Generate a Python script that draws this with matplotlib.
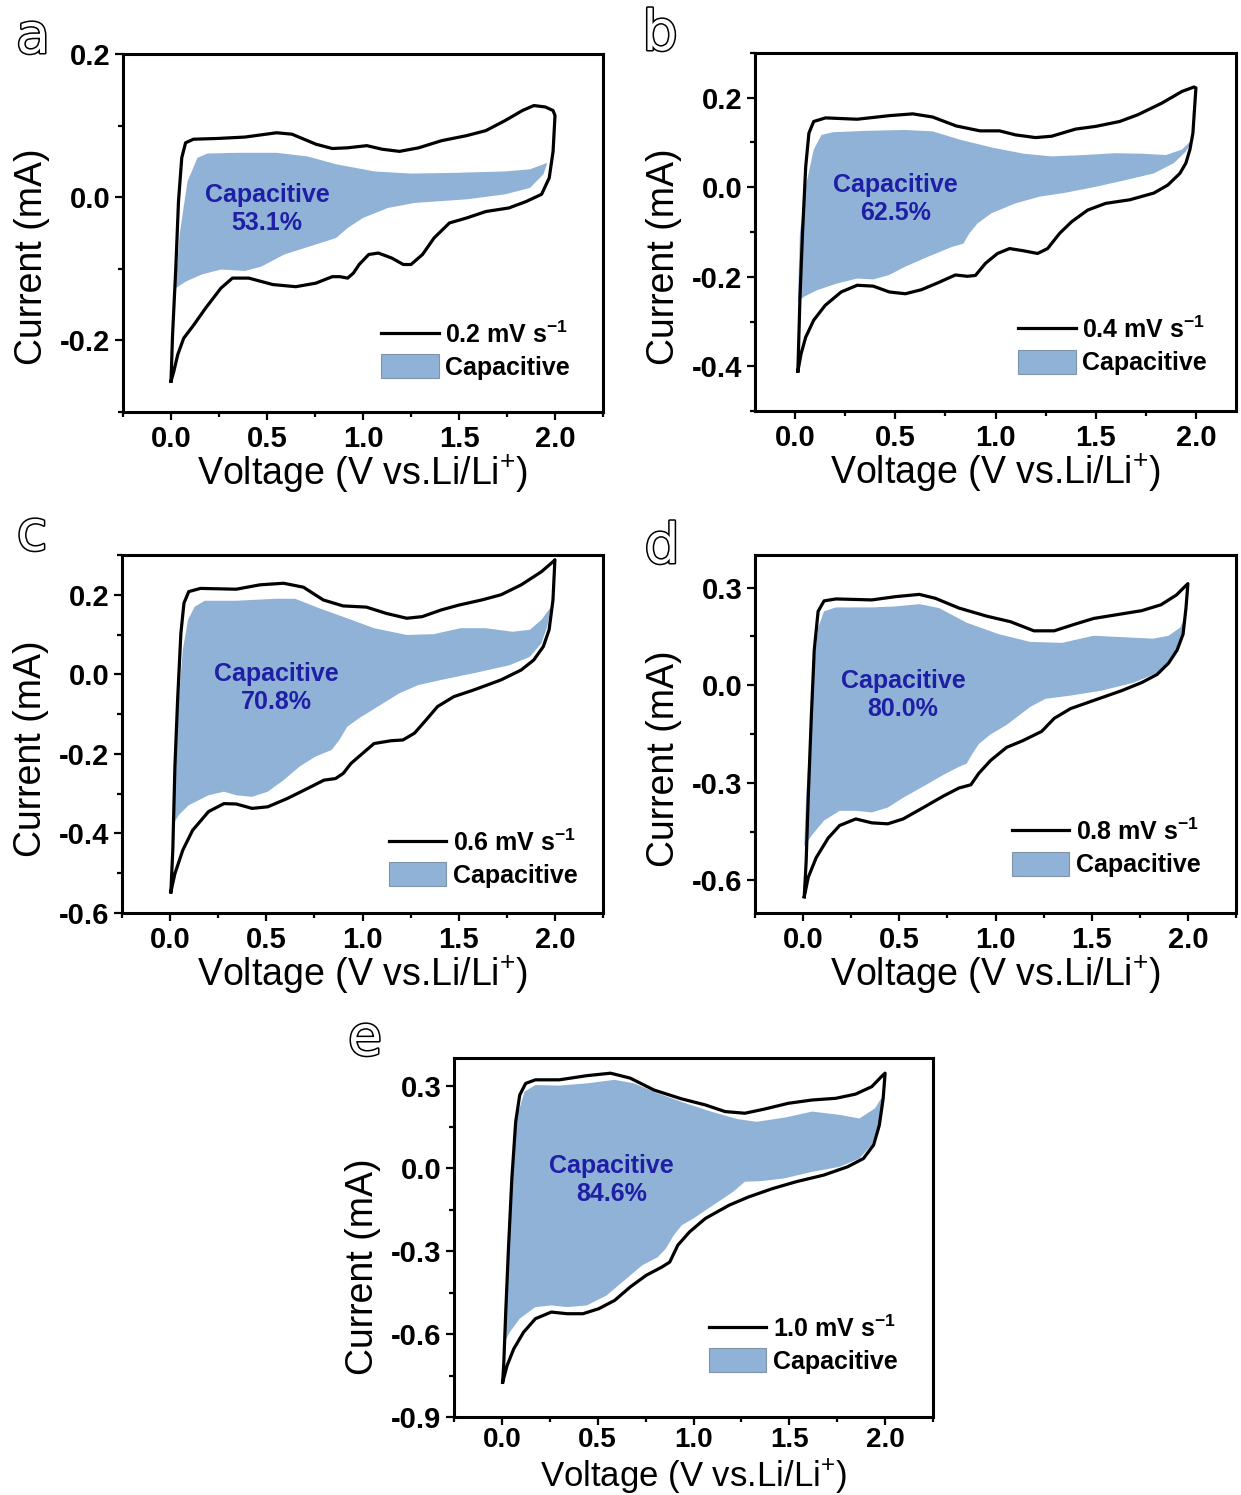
import matplotlib

matplotlib.use("Agg")

import matplotlib.pyplot as plt  # noqa: E402
import matplotlib.patheffects as pe  # noqa: E402
from matplotlib.lines import Line2D  # noqa: E402
from matplotlib.patches import Patch  # noqa: E402
from matplotlib.ticker import FormatStrFormatter, MultipleLocator  # noqa: E402

# ---------------------------------------------------------------- data ----
# each CV loop: anodic sweep 0 -> 2 V, then cathodic sweep 2 -> 0 V
cv_a_v = [0.0, 0.008, 0.025, 0.039, 0.056, 0.076, 0.117, 0.24, 0.385, 0.55, 0.63, 0.755, 0.84, 0.92,
          1.02, 1.10, 1.19, 1.29, 1.41, 1.54, 1.64, 1.74, 1.83, 1.89, 1.95, 1.99, 2.0,
          1.99, 1.97, 1.93, 1.85, 1.76, 1.64, 1.54, 1.45, 1.37, 1.31, 1.25, 1.21, 1.15, 1.08, 1.03,
          0.98, 0.95, 0.92, 0.88, 0.84, 0.755, 0.65, 0.53, 0.405, 0.32, 0.26, 0.18, 0.117, 0.066,
          0.035, 0.014, 0.0]
cv_a_i = [-0.257, -0.193, -0.099, -0.006, 0.055, 0.076, 0.081, 0.082, 0.084, 0.090, 0.088, 0.074,
          0.068, 0.069, 0.072, 0.067, 0.064, 0.069, 0.079, 0.086, 0.093, 0.107, 0.121, 0.128, 0.126,
          0.121, 0.114,
          0.064, 0.027, 0.004, -0.006, -0.015, -0.020, -0.029, -0.036, -0.057, -0.080, -0.094, -0.094,
          -0.085, -0.078, -0.080, -0.094, -0.106, -0.113, -0.111, -0.111, -0.120, -0.125, -0.122,
          -0.113, -0.113, -0.127, -0.155, -0.179, -0.197, -0.220, -0.244, -0.257]
cap_a_v = [0.025, 0.045, 0.086, 0.138, 0.19, 0.34, 0.55, 0.71, 0.86, 1.06, 1.25, 1.48, 1.74, 1.87, 1.96,
           1.94, 1.87, 1.74, 1.54, 1.27, 1.13, 1.0, 0.92, 0.86, 0.755, 0.59, 0.47, 0.385, 0.26, 0.16,
           0.076, 0.025]
cap_a_i = [-0.122, -0.052, 0.022, 0.055, 0.061, 0.062, 0.062, 0.057, 0.046, 0.036, 0.033, 0.034, 0.036,
           0.039, 0.048,
           0.032, 0.013, 0.004, -0.003, -0.008, -0.015, -0.029, -0.043, -0.057, -0.066, -0.080, -0.097,
           -0.103, -0.101, -0.108, -0.118, -0.127]

cv_b_v = [0.014, 0.024, 0.037, 0.053, 0.069, 0.093, 0.152, 0.31, 0.47, 0.587, 0.686, 0.804, 0.923, 1.02,
          1.10, 1.20, 1.28, 1.40, 1.50, 1.62, 1.71, 1.83, 1.93, 1.99, 2.0,
          1.985, 1.97, 1.95, 1.92, 1.86, 1.79, 1.67, 1.55, 1.46, 1.38, 1.32, 1.26, 1.21, 1.14, 1.07,
          1.01, 0.95, 0.90, 0.86, 0.80, 0.71, 0.63, 0.55, 0.47, 0.39, 0.31, 0.23, 0.15, 0.093, 0.053,
          0.03, 0.014]
cv_b_i = [-0.411, -0.252, -0.103, 0.046, 0.121, 0.147, 0.155, 0.152, 0.160, 0.164, 0.157, 0.137, 0.126,
          0.126, 0.117, 0.111, 0.114, 0.130, 0.136, 0.147, 0.162, 0.188, 0.214, 0.224, 0.222,
          0.121, 0.084, 0.054, 0.031, 0.005, -0.013, -0.028, -0.036, -0.051, -0.077, -0.103, -0.137,
          -0.148, -0.142, -0.137, -0.148, -0.170, -0.197, -0.199, -0.196, -0.214, -0.229, -0.238,
          -0.234, -0.221, -0.219, -0.234, -0.264, -0.297, -0.335, -0.372, -0.411]
cap_b_v = [0.014, 0.024, 0.053, 0.093, 0.132, 0.19, 0.35, 0.547, 0.686, 0.825, 0.98, 1.14, 1.28, 1.44,
           1.595, 1.73, 1.85, 1.93, 1.99,
           1.95, 1.89, 1.79, 1.65, 1.50, 1.34, 1.22, 1.10, 0.98, 0.91, 0.87, 0.84, 0.785, 0.665, 0.547,
           0.47, 0.39, 0.31, 0.21, 0.11, 0.043, 0.014]
cap_b_i = [-0.256, -0.103, 0.001, 0.084, 0.117, 0.123, 0.126, 0.128, 0.125, 0.106, 0.089, 0.075, 0.069,
           0.072, 0.076, 0.075, 0.072, 0.084, 0.110,
           0.080, 0.054, 0.031, 0.016, 0.001, -0.013, -0.021, -0.036, -0.058, -0.081, -0.103, -0.126,
           -0.133, -0.155, -0.178, -0.196, -0.206, -0.204, -0.215, -0.230, -0.245, -0.256]

cv_c_v = [0.004, 0.014, 0.025, 0.039, 0.056, 0.072, 0.097, 0.158, 0.344, 0.467, 0.59, 0.693, 0.796, 0.899,
          1.02, 1.125, 1.23, 1.31, 1.41, 1.50, 1.62, 1.72, 1.825, 1.93, 1.99, 2.0,
          1.99, 1.97, 1.94, 1.89, 1.825, 1.72, 1.58, 1.475, 1.39, 1.33, 1.27, 1.21, 1.147, 1.06, 1.00,
          0.94, 0.90, 0.86, 0.80, 0.714, 0.61, 0.508, 0.426, 0.344, 0.28, 0.20, 0.117, 0.066, 0.025,
          0.004]
cv_c_i = [-0.547, -0.442, -0.232, -0.065, 0.103, 0.179, 0.208, 0.216, 0.214, 0.225, 0.229, 0.219, 0.187,
          0.172, 0.169, 0.153, 0.141, 0.145, 0.162, 0.174, 0.187, 0.200, 0.225, 0.258, 0.283, 0.288,
          0.187, 0.112, 0.070, 0.036, 0.011, -0.014, -0.039, -0.056, -0.081, -0.115, -0.148, -0.165,
          -0.167, -0.174, -0.199, -0.224, -0.249, -0.262, -0.266, -0.287, -0.312, -0.333, -0.337,
          -0.326, -0.325, -0.345, -0.392, -0.442, -0.501, -0.547]
cap_c_v = [0.014, 0.025, 0.045, 0.066, 0.093, 0.128, 0.18, 0.344, 0.55, 0.65, 0.776, 0.92, 1.06, 1.23,
           1.37, 1.51, 1.64, 1.78, 1.87, 1.93, 1.98,
           1.96, 1.93, 1.87, 1.765, 1.58, 1.41, 1.29, 1.19, 1.08, 0.98, 0.92, 0.88, 0.84, 0.755, 0.673,
           0.59, 0.508, 0.426, 0.344, 0.28, 0.20, 0.097, 0.045, 0.014]
cap_c_i = [-0.379, -0.232, -0.065, 0.061, 0.137, 0.170, 0.185, 0.185, 0.190, 0.190, 0.166, 0.141, 0.116,
           0.099, 0.101, 0.116, 0.116, 0.107, 0.112, 0.137, 0.170,
           0.120, 0.078, 0.044, 0.023, 0.003, -0.014, -0.027, -0.048, -0.081, -0.111, -0.132, -0.165,
           -0.190, -0.207, -0.232, -0.266, -0.295, -0.308, -0.304, -0.295, -0.304, -0.329, -0.354,
           -0.379]

cv_d_v = [0.006, 0.016, 0.027, 0.043, 0.058, 0.078, 0.109, 0.171, 0.357, 0.48, 0.604, 0.687, 0.81, 0.955,
          1.078, 1.20, 1.305, 1.41, 1.51, 1.635, 1.76, 1.86, 1.94, 2.0,
          1.99, 1.975, 1.944, 1.90, 1.84, 1.76, 1.655, 1.51, 1.39, 1.305, 1.24, 1.14, 1.058, 0.975,
          0.913, 0.872, 0.81, 0.728, 0.625, 0.52, 0.44, 0.357, 0.274, 0.19, 0.13, 0.068, 0.027, 0.006]
cv_d_i = [-0.650, -0.540, -0.341, -0.092, 0.108, 0.227, 0.259, 0.265, 0.262, 0.272, 0.279, 0.267, 0.237,
          0.212, 0.195, 0.167, 0.167, 0.187, 0.205, 0.217, 0.229, 0.247, 0.277, 0.312,
          0.237, 0.157, 0.108, 0.068, 0.033, 0.008, -0.017, -0.047, -0.072, -0.102, -0.142, -0.171,
          -0.191, -0.231, -0.271, -0.306, -0.316, -0.341, -0.376, -0.411, -0.426, -0.423, -0.411,
          -0.431, -0.470, -0.530, -0.590, -0.650]
cap_d_v = [0.006, 0.016, 0.037, 0.058, 0.078, 0.109, 0.171, 0.357, 0.48, 0.604, 0.707, 0.85, 1.016, 1.18,
           1.346, 1.51, 1.676, 1.82, 1.90, 1.96, 1.995,
           1.96, 1.91, 1.84, 1.72, 1.55, 1.39, 1.26, 1.18, 1.058, 0.975, 0.913, 0.88, 0.85, 0.81, 0.728,
           0.625, 0.52, 0.44, 0.357, 0.274, 0.19, 0.109, 0.047, 0.006]
cap_d_i = [-0.495, -0.341, -0.142, 0.058, 0.177, 0.227, 0.239, 0.239, 0.242, 0.249, 0.237, 0.192, 0.157,
           0.133, 0.130, 0.152, 0.147, 0.143, 0.152, 0.177, 0.222,
           0.138, 0.078, 0.038, 0.008, -0.017, -0.032, -0.042, -0.067, -0.122, -0.151, -0.181, -0.211,
           -0.241, -0.251, -0.276, -0.311, -0.346, -0.376, -0.391, -0.386, -0.386, -0.416, -0.460,
           -0.495]

cv_e_v = [0.004, 0.01, 0.02, 0.035, 0.052, 0.072, 0.093, 0.124, 0.175, 0.30, 0.443, 0.567, 0.67, 0.794,
          0.938, 1.062, 1.165, 1.268, 1.37, 1.495, 1.62, 1.742, 1.845, 1.93, 1.99, 2.0,
          1.99, 1.97, 1.94, 1.887, 1.804, 1.68, 1.536, 1.412, 1.288, 1.186, 1.062, 0.979, 0.918, 0.876,
          0.835, 0.753, 0.67, 0.588, 0.505, 0.423, 0.34, 0.258, 0.175, 0.113, 0.062, 0.027, 0.004]
cv_e_i = [-0.774, -0.702, -0.520, -0.278, -0.036, 0.169, 0.266, 0.308, 0.321, 0.321, 0.336, 0.345, 0.327,
          0.284, 0.252, 0.230, 0.206, 0.200, 0.215, 0.236, 0.248, 0.254, 0.269, 0.296, 0.339, 0.345,
          0.254, 0.157, 0.085, 0.036, 0.006, -0.024, -0.048, -0.073, -0.103, -0.133, -0.181, -0.230,
          -0.278, -0.339, -0.357, -0.387, -0.429, -0.478, -0.508, -0.526, -0.526, -0.520, -0.544,
          -0.593, -0.653, -0.714, -0.774]
cap_e_v = [0.01, 0.02, 0.035, 0.056, 0.082, 0.118, 0.175, 0.30, 0.443, 0.588, 0.69, 0.814, 0.959, 1.082,
           1.227, 1.33, 1.474, 1.62, 1.763, 1.866, 1.948, 1.99,
           1.97, 1.93, 1.866, 1.763, 1.62, 1.474, 1.35, 1.268, 1.206, 1.103, 1.0, 0.938, 0.897, 0.856,
           0.814, 0.732, 0.65, 0.546, 0.443, 0.34, 0.258, 0.175, 0.093, 0.041, 0.01]
cap_e_i = [-0.635, -0.460, -0.218, 0.024, 0.194, 0.278, 0.302, 0.300, 0.308, 0.321, 0.308, 0.272, 0.236,
           0.208, 0.179, 0.169, 0.184, 0.206, 0.194, 0.181, 0.218, 0.266,
           0.169, 0.085, 0.036, 0.006, -0.012, -0.036, -0.046, -0.048, -0.085, -0.133, -0.181, -0.206,
           -0.242, -0.290, -0.321, -0.351, -0.399, -0.460, -0.496, -0.502, -0.496, -0.502, -0.544,
           -0.593, -0.635]

panel_letters = ["a", "b", "c", "d", "e"]
scan_rates = ["0.2", "0.4", "0.6", "0.8", "1.0"]
cap_percent = ["53.1%", "62.5%", "70.8%", "80.0%", "84.6%"]
x_limits = [(-0.25, 2.25), (-0.2, 2.2), (-0.25, 2.25), (-0.25, 2.25), (-0.25, 2.25)]
y_limits = [(-0.3, 0.2), (-0.5, 0.3), (-0.6, 0.3), (-0.7, 0.4), (-0.9, 0.4)]
y_major = [0.2, 0.2, 0.2, 0.3, 0.3]
label_xy = [(0.50, -0.016), (0.50, -0.026), (0.55, -0.034), (0.52, -0.029), (0.573, -0.042)]

# ---------------------------------------------------------------- style ---
FILL = "#90b2d7"
ANNOT = "#1f1fa6"
plt.rcParams["font.family"] = ["Liberation Sans", "DejaVu Sans"]
plt.rcParams["axes.unicode_minus"] = False
plt.rcParams["mathtext.fontset"] = "custom"
plt.rcParams["mathtext.rm"] = "Liberation Sans"
plt.rcParams["mathtext.bf"] = "Liberation Sans:bold"

W, H = 1241, 1495
# axes boxes in pixels: left, top, right, bottom
boxes = [(123, 54, 603, 412), (755, 53, 1236, 411), (122, 555, 603, 913),
         (755, 555, 1236, 913), (454, 1058, 933, 1417)]
letter_xy = [(33, 38), (660, 35), (32, 535), (662, 548), (365, 1040)]
legend_anchor = [(0.5375, 0.09), (0.547, 0.10), (0.555, 0.07), (0.534, 0.10), (0.532, 0.12)]
ylabel_y = [0.433, 0.43, 0.46, 0.43, 0.42]
# the bottom panel sits close to the figure edge, so its x texts are a bit tighter
xlabel_base = [73, 73, 73, 73, 69]
xlabel_size = [27, 27, 27, 27, 25]
xtick_size = [21, 21, 21, 21, 20]
xtick_pad = [3, 3, 3, 3, 1.5]

cvs = [(cv_a_v, cv_a_i), (cv_b_v, cv_b_i), (cv_c_v, cv_c_i), (cv_d_v, cv_d_i), (cv_e_v, cv_e_i)]
caps = [(cap_a_v, cap_a_i), (cap_b_v, cap_b_i), (cap_c_v, cap_c_i), (cap_d_v, cap_d_i),
        (cap_e_v, cap_e_i)]

fig = plt.figure(figsize=(W / 100, H / 100), dpi=100)

for k in range(5):
    l, t, r, b = boxes[k]
    ax = fig.add_axes([l / W, 1 - b / H, (r - l) / W, (b - t) / H])

    cap_v, cap_i = caps[k]
    ax.fill(cap_v, cap_i, color=FILL, lw=0, zorder=1)
    cv_v, cv_i = cvs[k]
    ax.plot(cv_v, cv_i, color="black", lw=2.3, solid_joinstyle="round", zorder=2)

    ax.set_xlim(*x_limits[k])
    ax.set_ylim(*y_limits[k])
    ax.xaxis.set_major_locator(MultipleLocator(0.5))
    ax.xaxis.set_minor_locator(MultipleLocator(0.25))
    ax.yaxis.set_major_locator(MultipleLocator(y_major[k]))
    ax.yaxis.set_minor_locator(MultipleLocator(y_major[k] / 2))
    ax.xaxis.set_major_formatter(FormatStrFormatter("%.1f"))
    ax.yaxis.set_major_formatter(FormatStrFormatter("%.1f"))
    ax.tick_params(which="both", direction="out", top=False, right=False, width=1.6)
    ax.tick_params(which="major", length=6, labelsize=21, pad=3)
    ax.tick_params(axis="x", which="major", labelsize=xtick_size[k], pad=xtick_pad[k])
    ax.tick_params(which="minor", length=3.5)
    for lab in ax.get_xticklabels() + ax.get_yticklabels():
        lab.set_fontweight("bold")
    for sp in ax.spines.values():
        sp.set_linewidth(2.2)

    ax.set_xlabel("Voltage (V vs.Li/Li$^{+}$)", fontsize=xlabel_size[k], va="baseline")
    ax.xaxis.set_label_coords(0.5, -xlabel_base[k] / (b - t))
    ax.set_ylabel("Current (mA)", fontsize=27, va="center")
    ax.yaxis.set_label_coords(-0.19, ylabel_y[k])

    tx, ty = label_xy[k]
    ax.text(tx, ty, "Capacitive\n" + cap_percent[k], color=ANNOT, fontsize=18,
            fontweight="bold", ha="center", va="center", linespacing=1.2)

    handles = [Line2D([], [], color="black", lw=2.3),
               Patch(facecolor=FILL, edgecolor="#7f93aa", lw=0.8)]
    labels = [scan_rates[k] + r" mV s$^{\mathbf{-1}}$", "Capacitive"]
    ax.legend(handles, labels, loc="lower left", bbox_to_anchor=legend_anchor[k], frameon=False,
              prop={"weight": "bold", "size": 18}, handlelength=2.3, handleheight=1.1,
              handletextpad=0.25, labelspacing=0.25, borderpad=0, borderaxespad=0)

    lx, ly = letter_xy[k]
    fig.text(lx / W, 1 - ly / H, panel_letters[k], fontsize=40, ha="center", va="center",
             color="white", family="DejaVu Sans",
             path_effects=[pe.withStroke(linewidth=2.2, foreground="black")])

fig.savefig("out.png", dpi=100, facecolor="white")
